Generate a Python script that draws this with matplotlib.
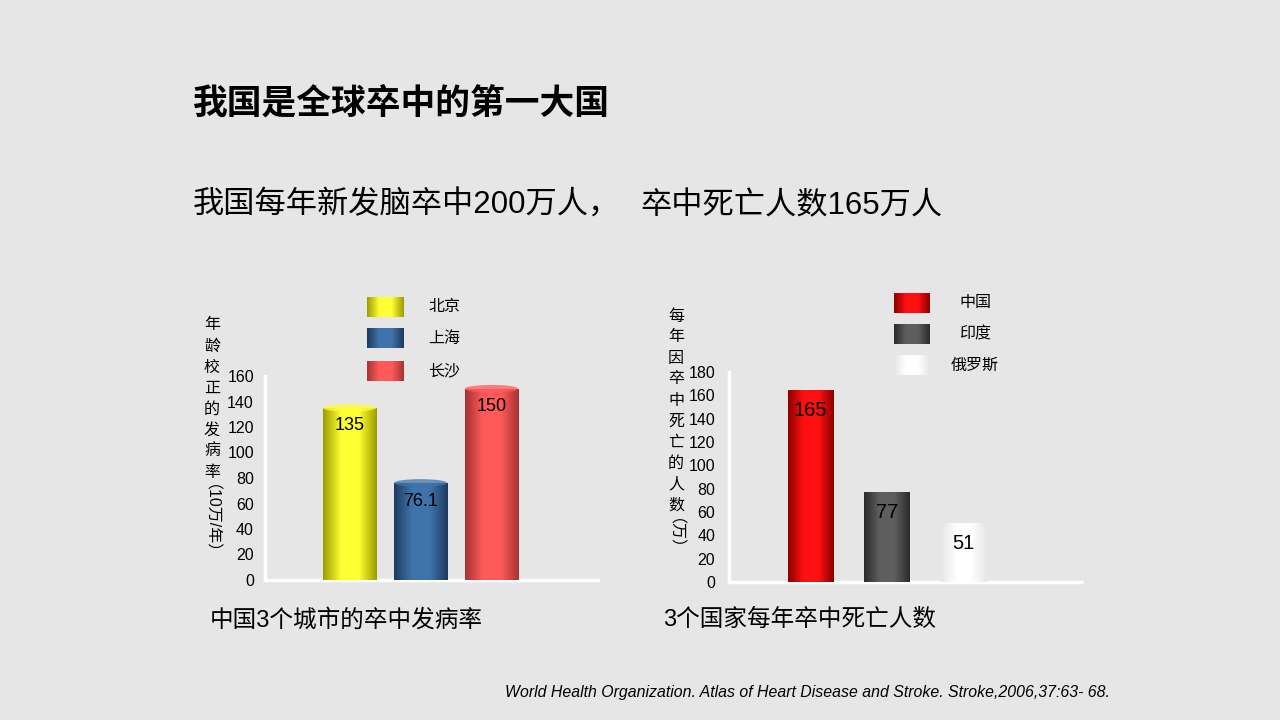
import numpy as np
import matplotlib
matplotlib.use('Agg')
import matplotlib.pyplot as plt
from matplotlib.colors import LinearSegmentedColormap
from matplotlib.patches import Ellipse

plt.rcParams['font.family'] = ['Liberation Sans', 'Noto Sans CJK SC', 'DejaVu Sans']

# 数据
cities = ['北京', '上海', '长沙']
city_rate = [135, 76.1, 150]
city_labels = ['135', '76.1', '150']

countries = ['中国', '印度', '俄罗斯']
country_deaths = [165, 77, 51]
country_labels = ['165', '77', '51']

left_ticks = list(range(0, 161, 20))
right_ticks = list(range(0, 181, 20))

# 颜色 (边缘暗色, 中间亮色)
city_colors = [('#9c9c00', '#ffff33'), ('#1d3a5e', '#3f74ab'), ('#a83232', '#ff5a5a')]
country_colors = [('#8a0000', '#ff1010'), ('#2a2a2a', '#5e5e5e'), ('#e6e6e6', '#ffffff')]

bg = '#e6e6e6'


def grad_cmap(dark, light):
    return LinearSegmentedColormap.from_list('cyl', [dark, light, light, dark], N=256)


def cylinder(ax, bars, colors, cap=0.0):
    g = np.linspace(0, 1, 256).reshape(1, -1)
    for p, (dark, light) in zip(bars, colors):
        x0, y0, w, h = p.get_x(), p.get_y(), p.get_width(), p.get_height()
        im = ax.imshow(g, cmap=grad_cmap(dark, light), extent=[x0, x0 + w, y0, y0 + h],
                       aspect='auto', zorder=3, interpolation='bicubic')
        im.set_clip_path(p)
        if cap > 0:
            ax.add_patch(Ellipse((x0 + w / 2, y0 + h), w, cap, facecolor=light,
                                 edgecolor='none', alpha=0.75, zorder=4))


fig = plt.figure(figsize=(12.8, 7.2), dpi=100, facecolor=bg)

# 叠加层，用像素坐标放文字
ov = fig.add_axes([0, 0, 1, 1])
ov.axis('off')
ov.patch.set_alpha(0)

ov.text(193, 104, '我国是全球卒中的第一大国', fontsize=25, fontweight='bold',
        ha='left', va='center', color='black')
ov.text(193, 206, '我国每年新发脑卒中200万人，', fontsize=22.5,
        ha='left', va='center', color='black')
ov.text(640, 206, '卒中死亡人数165万人', fontsize=22.5,
        ha='left', va='center', color='black')

# 左图
ax1 = fig.add_axes([265 / 1280, 1 - 580 / 720, 333 / 1280, 204 / 720])
ax1.patch.set_alpha(0)
x1 = np.arange(len(cities))
b1 = ax1.bar(x1, city_rate, width=0.75, color='none', edgecolor='none', zorder=2)
cylinder(ax1, b1, city_colors, cap=6)
for xi, v, lab in zip(x1, city_rate, city_labels):
    ax1.annotate(lab, (xi, v), xytext=(0, -13), textcoords='offset points',
                 ha='center', va='center', fontsize=13, zorder=5)
ax1.set_xlim(-1.19, 3.5)
ax1.set_ylim(0, 160)
ax1.set_yticks(left_ticks)
ax1.set_xticks([])

# 右图
ax2 = fig.add_axes([729 / 1280, 1 - 582 / 720, 352 / 1280, 210 / 720])
ax2.patch.set_alpha(0)
x2 = np.arange(len(countries))
b2 = ax2.bar(x2, country_deaths, width=0.59, color='none', edgecolor='none', zorder=2)
cylinder(ax2, b2, country_colors)
for xi, v, lab in zip(x2, country_deaths, country_labels):
    ax2.annotate(lab, (xi, v), xytext=(0, -15), textcoords='offset points',
                 ha='center', va='center', fontsize=14.5, zorder=5)
ax2.set_xlim(-1.06, 3.54)
ax2.set_ylim(0, 180)
ax2.set_yticks(right_ticks)
ax2.set_xticks([])

for ax, pad in ((ax1, 8), (ax2, 10)):
    for s in ('top', 'right'):
        ax.spines[s].set_visible(False)
    for s in ('left', 'bottom'):
        ax.spines[s].set_color('white')
        ax.spines[s].set_linewidth(2.5)
    ax.tick_params(axis='y', length=0, pad=pad, labelsize=11.5, colors='black')

# 图例
g = np.linspace(0, 1, 256).reshape(1, -1)
leg_left_y = [307, 338, 371]
for name, (dark, light), yy in zip(cities, city_colors, leg_left_y):
    ov.imshow(g, cmap=grad_cmap(dark, light), extent=[367, 404, yy + 10, yy - 10],
              aspect='auto', interpolation='bicubic')
    ov.text(444, yy, name, fontsize=11.5, ha='center', va='center')

leg_right_y = [303, 334, 365]
for name, (dark, light), yy in zip(countries, country_colors, leg_right_y):
    ov.imshow(g, cmap=grad_cmap(dark, light), extent=[894, 930, yy + 10, yy - 10],
              aspect='auto', interpolation='bicubic')
    ov.text(975, yy, name, fontsize=11.5, ha='center', va='center')
ov.set_xlim(0, 1280)
ov.set_ylim(720, 0)

# 竖排的 y 轴标题
def vlabel(x, y0, step, upright, rotated):
    y = y0
    for ch in upright:
        ov.text(x, y, ch, fontsize=11.5, ha='center', va='center')
        y += step
    # 旋转后的括号部分，整体视觉偏右，往左挪一点
    ov.text(x - 10, y - step / 2 + 2, rotated, fontsize=11.5, rotation=-90,
            ha='center', va='top')

vlabel(212, 325, 21, '年龄校正的发病率', '（10万/年）')
vlabel(676, 316, 21, '每年因卒中死亡的人数', '（万）')

ov.text(210, 620, '中国3个城市的卒中发病率', fontsize=17, ha='left', va='center')
ov.text(663, 620, '3个国家每年卒中死亡人数', fontsize=17, ha='left', va='center')

ov.text(1110, 692, 'World Health Organization. Atlas of Heart Disease and Stroke. Stroke,2006,37:63- 68.',
        fontsize=11.4, style='italic', ha='right', va='center')

fig.savefig('out.png', dpi=100, facecolor=bg)
